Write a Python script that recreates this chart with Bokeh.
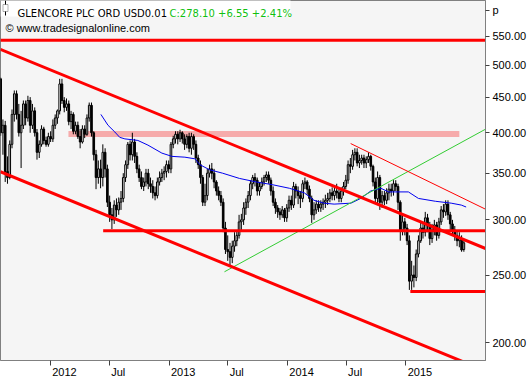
import pandas as pd
from bokeh.plotting import figure
from bokeh.models import (Range1d, FixedTicker, PrintfTickFormatter, Label, BoxAnnotation,
                          ColumnDataSource, DatetimeAxis)
from bokeh.embed import file_html
from bokeh.resources import INLINE

# ---------------- data (weekly bars) ----------------
first_week = "2011-08-01"
opens = [478,400,410,352,345,385,425,455,425,400,410,440,420,445,410,430,400,375,385,405,
         390,385,395,392,410,420,430,470,445,435,440,415,425,402,410,395,388,405,398,420,
         438,400,372,345,355,345,375,355,318,305,300,315,310,318,322,345,360,385,372,388,
         370,355,345,335,340,350,338,335,328,325,340,345,350,352,360,355,385,392,398,392,
         400,392,385,395,380,395,385,368,360,345,318,325,350,355,350,340,330,325,318,292,
         272,270,265,275,280,285,298,300,312,318,325,338,345,342,330,335,340,345,348,342,
         330,318,312,308,305,310,302,312,320,315,335,330,325,322,338,340,332,322,305,310,
         316,312,316,318,320,322,328,325,330,328,322,330,335,342,360,358,372,375,362,365,
         368,362,366,370,358,340,322,345,318,325,320,328,332,330,338,335,318,290,298,292,
         280,245,250,248,268,280,292,288,302,295,282,290,295,285,298,310,308,316,305,296,
         290,285,280,282,272]
highs = [480,418,416,370,390,432,460,460,440,430,445,445,452,450,440,435,405,390,410,408,
         395,400,402,418,425,432,478,478,450,448,445,430,428,415,415,405,410,410,425,442,
         442,402,378,365,366,385,380,360,325,312,320,322,323,330,350,365,388,390,400,392,
         375,360,352,345,355,355,345,342,335,345,352,355,358,365,365,388,396,402,402,404,
         402,398,398,400,400,398,390,372,365,348,338,355,360,362,355,342,335,330,322,298,
         285,278,280,288,290,305,306,318,322,330,342,348,350,345,340,345,348,352,352,345,
         335,322,315,312,314,312,316,325,325,340,338,335,330,342,345,342,336,325,318,320,
         320,320,322,326,328,332,334,335,338,332,334,340,348,365,368,378,380,380,372,372,
         372,370,375,372,360,345,352,348,330,330,333,338,338,342,342,338,320,306,302,296,
         285,262,258,272,285,298,296,308,306,298,296,300,298,302,314,316,320,320,308,300,
         294,290,288,285,281]
lows = [396,372,340,338,343,380,415,418,395,356,405,410,415,400,405,395,366,368,382,385,
        382,382,388,388,405,412,425,440,428,430,410,405,398,398,392,380,386,393,396,415,
        395,365,332,338,333,335,345,313,298,291,296,303,305,310,318,340,355,365,365,362,
        350,340,332,330,335,332,328,322,320,322,336,340,342,345,350,350,380,386,385,388,
        386,378,380,375,372,378,362,355,338,314,314,320,345,343,333,325,320,314,288,268,
        262,258,260,270,275,282,290,295,305,312,320,332,335,325,325,332,336,340,338,325,
        314,306,302,300,302,298,298,308,310,312,322,316,312,318,332,326,318,297,300,306,
        308,308,310,312,315,318,320,320,322,318,318,325,332,338,350,354,365,358,356,360,
        356,356,362,353,335,318,315,310,312,315,316,320,324,325,330,310,280,285,285,276,
        238,238,240,245,265,278,282,284,288,276,278,285,280,282,295,302,304,300,290,285,
        280,275,274,270,270]
closes = [400,410,352,345,385,425,455,425,400,410,440,420,445,410,430,400,375,385,405,390,
          385,395,392,410,420,430,470,445,435,440,415,425,402,410,395,388,405,398,420,438,
          400,372,345,355,345,375,355,318,305,300,315,310,318,322,345,360,385,372,388,370,
          355,345,335,340,350,338,335,328,325,340,345,350,352,360,355,385,392,398,392,400,
          392,385,395,380,395,385,368,360,345,318,325,350,355,350,340,330,325,318,292,272,
          270,265,275,280,285,298,300,312,318,325,338,345,342,330,335,340,345,348,342,330,
          318,312,308,305,310,302,312,320,315,335,330,325,322,338,340,332,322,305,310,316,
          312,316,318,320,322,328,325,330,328,322,330,335,342,360,358,372,375,362,365,368,
          362,366,370,358,340,322,345,318,325,320,328,332,330,338,335,318,290,298,292,280,
          245,250,248,268,280,292,288,302,295,282,290,295,285,298,310,308,316,305,296,290,
          285,280,282,271.55,278.10]

ma_dates = ["2012-06-05","2012-06-27","2012-07-18","2012-08-02","2012-08-18","2012-09-27",
            "2012-10-28","2012-12-10","2013-01-10","2013-02-19","2013-03-22","2013-04-06",
            "2013-05-06","2013-06-15","2013-08-06","2013-09-27","2013-11-15","2014-01-07",
            "2014-02-22","2014-03-24","2014-04-24","2014-05-25","2014-07-16","2014-08-15",
            "2014-09-15","2014-10-16","2014-11-09","2015-01-09","2015-02-09","2015-04-02",
            "2015-05-21","2015-06-21","2015-07-06"]
ma_values = [425,410,401,394,392,390,384,374,370,369,367,360,354,350,344,340,337,333,
             328,320,317,316,317,322,330,333,329,329,322,319,317,315,313]

channel_top_dates = ["2011-07-31", "2015-09-04"]
channel_top_prices = [527.0, 272.9]
channel_bottom_dates = ["2011-07-31", "2015-09-04"]
channel_bottom_prices = [351.7, 182.1]
green_dates = ["2013-06-21", "2015-09-04"]
green_prices = [252.7, 404.8]
thin_red_dates = ["2014-07-15", "2015-09-04"]
thin_red_prices = [386.0, 310.7]
level_dates = [["2011-07-31", "2015-09-04"], ["2012-06-12", "2015-09-04"], ["2015-01-15", "2015-09-04"]]
level_prices = [543.0, 289.5, 236.8]
zone_dates = ["2012-02-26", "2015-06-15"]
zone_prices = [394.3, 402.2]

y_ticks = [200, 250, 300, 350, 400, 450, 500, 550]
unit_label = "p"
unit_label_level = 600
x_tick_dates = ["2012-01-01", "2012-07-01", "2013-01-01", "2013-07-01", "2014-01-01", "2014-07-01", "2015-01-01"]
x_tick_labels = ["2012", "Jul", "2013", "Jul", "2014", "Jul", "2015"]

title_text = "GLENCORE PLC ORD USD0.01"
quote_text = "C:278.10 +6.55 +2.41%"
source_text = "\u00a9 www.tradesignalonline.com"

# ---------------- helpers ----------------
def ms(d):
    return float(int(pd.Timestamp(d).value // 10**6))

DAY = 86400000.0
PX_PER_DAY = 0.3257
dates = pd.date_range(first_week, periods=len(closes), freq="7D")
xs = [ms(d) for d in dates]

up = [c >= o for o, c in zip(opens, closes)]
src_up = ColumnDataSource(dict(x=[x for x, u in zip(xs, up) if u],
                               o=[v for v, u in zip(opens, up) if u],
                               c=[v for v, u in zip(closes, up) if u]))
src_dn = ColumnDataSource(dict(x=[x for x, u in zip(xs, up) if not u],
                               o=[v for v, u in zip(opens, up) if not u],
                               c=[v for v, u in zip(closes, up) if not u]))
src_wick = ColumnDataSource(dict(x=xs, h=highs, l=lows))

FONT = "Liberation Sans"

p = figure(width=529, height=380, output_backend="svg", toolbar_location=None,
           x_axis_type="datetime", y_axis_type="log", y_axis_location="right",
           x_range=Range1d(ms("2011-07-31") + DAY / 2, ms("2015-09-03") + 0.7 * DAY),
           y_range=Range1d(188.5, 619.2),
           min_border_left=0, min_border_top=0, min_border_right=42, min_border_bottom=19)
p.background_fill_color = "#f5f5f5"
p.border_fill_color = "white"
p.outline_line_color = "#808080"
p.grid.visible = False

# resistance zone (behind candles)
p.quad(left=[ms(zone_dates[0])], right=[ms(zone_dates[1])], bottom=[zone_prices[0]], top=[zone_prices[1]],
       fill_color="#f6abab", line_color=None)

# candles
p.segment(x0="x", y0="l", x1="x", y1="h", source=src_wick, line_color="black", line_width=1)
p.vbar(x="x", bottom="o", top="c", width=5 * DAY, source=src_up,
       fill_color="white", line_color="black", line_width=1)
p.vbar(x="x", bottom="c", top="o", width=5 * DAY, source=src_dn,
       fill_color="black", line_color="black", line_width=1)

# moving average
p.line([ms(d) for d in ma_dates], ma_values, line_color="#0000ee", line_width=1)

# trend lines
p.line([ms(d) for d in green_dates], green_prices, line_color="#33cc33", line_width=1)
p.line([ms(d) for d in thin_red_dates], thin_red_prices, line_color="red", line_width=1)
p.line([ms(d) for d in channel_top_dates], channel_top_prices, line_color="red", line_width=3)
p.line([ms(d) for d in channel_bottom_dates], channel_bottom_prices, line_color="red", line_width=3)
for dd, lv in zip(level_dates, level_prices):
    p.line([ms(d) for d in dd], [lv, lv], line_color="red", line_width=3)

# y axis (right)
ya = p.yaxis[0]
ya.ticker = FixedTicker(ticks=y_ticks + [unit_label_level])
ya.formatter = PrintfTickFormatter(format="%.2f")
ya.major_label_overrides = {unit_label_level: unit_label}
ya.major_label_text_font = FONT
ya.major_label_text_font_size = "11px"
ya.major_label_text_color = "black"
ya.major_label_standoff = 3
ya.major_tick_out = 4
ya.major_tick_in = 0
ya.major_tick_line_color = "#404040"
ya.minor_tick_line_color = None
ya.axis_line_color = "#808080"

# x axis: tick marks at the month starts
xa = p.xaxis[0]
tick_ms = [ms(d) for d in x_tick_dates]
xa.ticker = FixedTicker(ticks=tick_ms)
xa.major_label_overrides = {t: "" for t in tick_ms}
xa.major_label_text_font_size = "1px"
xa.major_label_standoff = 0
xa.major_tick_out = 5
xa.major_tick_in = 0
xa.major_tick_line_color = "#404040"
xa.minor_tick_line_color = None
xa.axis_line_color = "#808080"

# second x axis: labels placed just right of each tick (as in the reference)
label_half_width_px = {"2012": 12.2, "2013": 12.2, "2014": 12.2, "2015": 12.2, "Jul": 7.0}
label_ticks = []
label_over = {}
for t, lab in zip(tick_ms, x_tick_labels):
    shift_px = 2.0 + label_half_width_px[lab]
    lt = float(int(t + shift_px / PX_PER_DAY * DAY))
    label_ticks.append(lt)
    label_over[lt] = lab
xa2 = DatetimeAxis(ticker=FixedTicker(ticks=label_ticks))
xa2.major_label_overrides = label_over
xa2.major_label_text_font = FONT
xa2.major_label_text_font_size = "11px"
xa2.major_label_text_color = "black"
xa2.major_label_standoff = 0
xa2.major_tick_out = 0
xa2.major_tick_in = 0
xa2.major_tick_line_color = None
xa2.minor_tick_line_color = None
xa2.axis_line_color = None
p.add_layout(xa2, "below")

FH = 361  # frame height in px
# title box, icon and texts
p.add_layout(BoxAnnotation(left=0, right=290, top=FH, bottom=FH - 17,
                           left_units="screen", right_units="screen", top_units="screen", bottom_units="screen",
                           fill_color="white", fill_alpha=1, line_color=None))
p.add_layout(BoxAnnotation(left=4.5, right=5.5, top=FH - 1, bottom=FH - 16,
                           left_units="screen", right_units="screen", top_units="screen", bottom_units="screen",
                           fill_color="black", fill_alpha=1, line_color=None))
p.add_layout(BoxAnnotation(left=2.5, right=7.5, top=FH - 5, bottom=FH - 12,
                           left_units="screen", right_units="screen", top_units="screen", bottom_units="screen",
                           fill_color="white", fill_alpha=1, line_color="black", line_width=1))
p.add_layout(Label(x=17, y=FH - 14, x_units="screen", y_units="screen", text=title_text,
                   text_font="DejaVu Sans", text_font_size="10px", text_align="left",
                   text_baseline="alphabetic", text_color="black"))
p.add_layout(Label(x=169, y=FH - 14, x_units="screen", y_units="screen", text=quote_text,
                   text_font="DejaVu Sans", text_font_size="10px", text_align="left",
                   text_baseline="alphabetic", text_color="#10c010"))
p.add_layout(Label(x=5, y=FH - 28, x_units="screen", y_units="screen", text=source_text,
                   text_font=FONT, text_font_size="11px", text_align="left",
                   text_baseline="alphabetic", text_color="black"))

open("out.html", "w").write(file_html(p, INLINE))
